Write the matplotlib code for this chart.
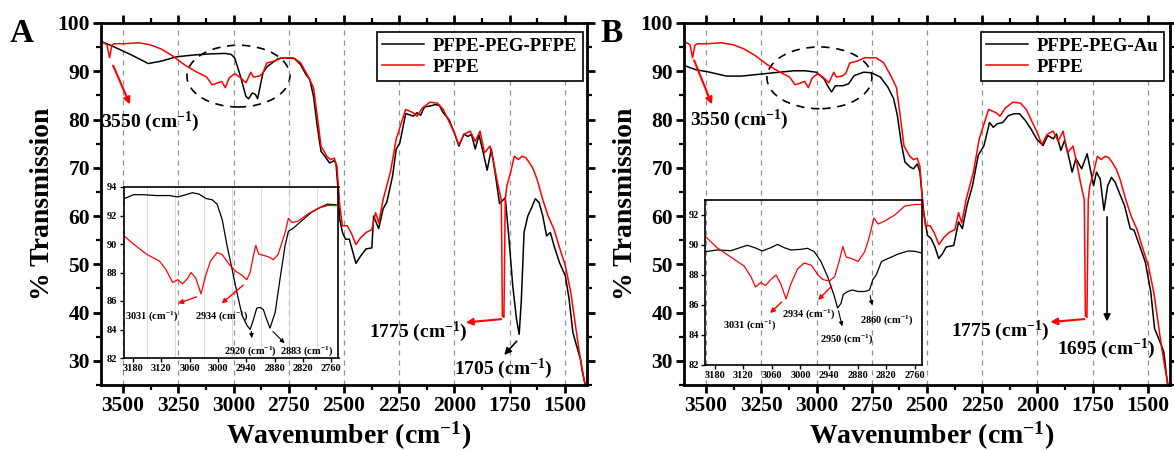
import matplotlib
matplotlib.use("Agg")
import matplotlib.pyplot as plt
from matplotlib.patches import Ellipse
from matplotlib.ticker import MultipleLocator

plt.rcParams['font.family'] = ['Liberation Serif', 'DejaVu Serif']
plt.rcParams['font.weight'] = 'bold'
plt.rcParams['mathtext.default'] = 'regular'

# ---------------- data ----------------
# PFPE (red) main spectrum
pfpe_wn = [3600, 3573, 3561, 3551, 3539, 3497, 3429, 3378, 3327, 3276, 3224, 3173, 3122,
           3097, 3071, 3054, 3037, 3020, 2995, 2969, 2944, 2922, 2910, 2884, 2867, 2850,
           2816, 2782, 2731, 2697, 2663, 2638, 2621, 2604, 2578, 2561, 2544, 2532, 2519,
           2507, 2486, 2468, 2446, 2425, 2400, 2374, 2357, 2343, 2323, 2289, 2264, 2221,
           2187, 2170, 2145, 2111, 2077, 2051, 2000, 1980, 1957, 1929, 1906, 1884, 1864,
           1839, 1822, 1805, 1788, 1783, 1776, 1770, 1763, 1746, 1729, 1711, 1694, 1677,
           1660, 1643, 1626, 1600, 1576, 1549, 1524, 1498, 1473, 1456, 1439, 1422, 1408]
pfpe_T = [96.2, 95.5, 92.8, 95.4, 95.7, 95.7, 95.9, 95.5, 94.6, 93.2, 91.4, 90.0, 88.8,
          87.2, 87.6, 87.9, 86.6, 88.6, 89.5, 88.7, 87.6, 89.8, 88.8, 89.0, 89.6, 91.7,
          92.1, 92.8, 92.8, 91.8, 89.0, 86.6, 80.7, 74.5, 72.4, 71.7, 72.0, 70.3, 62.1,
          58.0, 58.0, 56.6, 54.1, 55.5, 56.6, 57.2, 60.7, 58.6, 63.4, 69.3, 75.9, 82.1,
          81.4, 80.7, 82.4, 83.6, 83.4, 82.1, 77.2, 74.8, 76.9, 77.6, 75.5, 77.6, 73.1,
          74.5, 71.0, 66.9, 63.4, 39.3, 39.0, 63.4, 66.2, 69.0, 72.4, 71.7, 72.4, 72.1,
          71.0, 69.7, 67.6, 63.4, 60.0, 57.2, 53.4, 49.7, 44.1, 38.6, 33.1, 28.3, 25.0]

# PFPE-PEG-PFPE (black, panel A)
peg_pfpe_wn = [3600, 3548, 3463, 3386, 3327, 3258, 3173, 3105, 3037, 3011, 2995, 2969, 2944,
               2932, 2915, 2901, 2891, 2867, 2847, 2799, 2765, 2723, 2697, 2672, 2655, 2638,
               2621, 2604, 2587, 2565, 2553, 2544, 2536, 2527, 2519, 2507, 2493, 2476, 2459,
               2446, 2425, 2400, 2374, 2366, 2343, 2323, 2306, 2280, 2264, 2247, 2221, 2204,
               2187, 2170, 2153, 2136, 2111, 2085, 2068, 2051, 2025, 2000, 1980, 1957, 1940,
               1923, 1906, 1889, 1872, 1852, 1833, 1816, 1796, 1770, 1753, 1736, 1719, 1707,
               1697, 1685, 1668, 1651, 1634, 1617, 1600, 1583, 1566, 1549, 1524, 1498, 1481,
               1464, 1447, 1430, 1422, 1408]
peg_pfpe_T = [96.2, 95.2, 93.4, 91.6, 92.1, 93.0, 93.4, 93.6, 93.7, 93.5, 92.8, 89.0, 84.8,
              84.3, 85.5, 85.2, 84.3, 89.7, 91.0, 92.6, 92.8, 92.6, 91.4, 89.3, 88.3, 84.8,
              78.6, 73.4, 72.4, 71.0, 71.3, 71.5, 70.8, 65.5, 59.3, 56.6, 55.2, 55.2, 52.4,
              50.2, 51.7, 53.2, 53.4, 60.0, 57.4, 61.5, 62.9, 68.3, 73.8, 75.2, 81.2, 81.0,
              80.7, 81.4, 80.9, 82.6, 82.8, 83.1, 82.9, 81.4, 80.0, 77.2, 74.5, 77.0, 76.5,
              76.9, 73.9, 76.8, 73.6, 69.5, 73.9, 69.0, 62.6, 63.8, 55.2, 45.5, 38.6, 35.5,
              42.8, 56.6, 60.0, 61.7, 63.6, 62.8, 60.0, 55.9, 56.6, 53.8, 50.3, 47.6, 42.8,
              35.9, 33.1, 30.4, 28.0, 25.0]

# PFPE-PEG-Au (black, panel B)
peg_au_wn = [3600, 3545, 3493, 3408, 3340, 3255, 3170, 3102, 3051, 3000, 2966, 2950, 2932,
             2915, 2881, 2855, 2830, 2787, 2753, 2711, 2677, 2651, 2634, 2617, 2600, 2575,
             2561, 2544, 2532, 2515, 2498, 2481, 2464, 2447, 2430, 2413, 2379, 2357, 2340,
             2319, 2294, 2268, 2242, 2217, 2200, 2183, 2157, 2132, 2106, 2081, 2055, 2030,
             2004, 1975, 1953, 1928, 1914, 1894, 1877, 1860, 1843, 1826, 1800, 1775, 1758,
             1746, 1733, 1716, 1699, 1682, 1665, 1648, 1631, 1606, 1580, 1563, 1538, 1512,
             1487, 1470, 1445, 1428, 1411]
peg_au_T = [91.2, 90.3, 89.9, 89.0, 89.0, 89.4, 89.8, 90.1, 90.1, 89.8, 88.4, 87.0, 85.7,
            87.0, 87.0, 87.4, 89.1, 89.8, 89.7, 88.8, 86.7, 84.3, 80.8, 75.3, 71.2, 70.1,
            69.8, 70.8, 69.1, 60.8, 56.0, 55.3, 53.6, 51.2, 52.2, 53.6, 53.9, 58.8, 57.4,
            62.2, 66.3, 72.6, 74.6, 79.4, 78.4, 79.1, 79.4, 80.8, 81.2, 81.2, 79.8, 78.1,
            76.0, 74.6, 76.7, 76.0, 77.0, 73.6, 75.7, 72.6, 69.1, 71.9, 69.8, 72.9, 69.1,
            66.3, 69.1, 67.7, 61.2, 66.3, 68.0, 67.0, 65.0, 62.2, 57.4, 57.1, 53.9, 50.5,
            44.3, 36.7, 33.9, 31.9, 25.0]

# Inset A (3200-2750 cm-1)
insA_black_wn = [3200, 3179, 3158, 3131, 3103, 3085, 3068, 3054, 3040, 3026, 3012, 3002, 2991,
                 2981, 2970, 2960, 2949, 2939, 2932, 2925, 2918, 2911, 2904, 2897, 2890, 2879,
                 2869, 2858, 2851, 2841, 2824, 2803, 2782, 2768, 2750]
insA_black_T = [93.16, 93.46, 93.46, 93.4, 93.4, 93.3, 93.46, 93.6, 93.5, 93.2, 93.1, 92.8, 91.7,
                89.9, 88.2, 86.6, 85.0, 84.3, 84.0, 84.7, 85.5, 85.55, 85.4, 84.7, 84.1, 85.2,
                87.5, 89.9, 90.9, 91.1, 91.6, 92.2, 92.6, 92.8, 92.75]
insA_red_wn = [3200, 3179, 3152, 3124, 3110, 3096, 3085, 3075, 3064, 3057, 3047, 3036, 3026,
               3016, 3002, 2991, 2977, 2963, 2949, 2939, 2932, 2925, 2920, 2914, 2904, 2893,
               2883, 2873, 2858, 2851, 2843, 2831, 2810, 2789, 2768, 2750]
insA_red_T = [90.6, 90.0, 89.3, 88.8, 88.2, 87.3, 87.5, 87.2, 87.6, 88.0, 87.6, 86.5, 87.8,
              88.8, 89.4, 89.25, 88.6, 88.1, 87.8, 87.5, 88.0, 89.2, 89.9, 89.3, 89.2, 89.1,
              88.9, 89.25, 90.8, 91.8, 91.5, 91.6, 92.1, 92.5, 92.7, 92.7]

# Inset B (3200-2745 cm-1)
insB_black_wn = [3199, 3174, 3146, 3125, 3111, 3094, 3080, 3062, 3048, 3034, 3020, 2999, 2985,
                 2971, 2957, 2943, 2929, 2922, 2915, 2910, 2901, 2891, 2879, 2865, 2855, 2848,
                 2841, 2830, 2816, 2795, 2774, 2760, 2742]
insB_black_T = [89.56, 89.67, 89.62, 89.84, 89.98, 89.8, 89.6, 89.82, 90.04, 89.82, 89.67, 89.71, 89.78,
                89.56, 88.9, 87.9, 86.6, 85.8, 86.1, 86.7, 86.9, 87.0, 86.9, 86.9, 87.0, 87.7,
                88.0, 88.9, 89.1, 89.4, 89.6, 89.58, 89.44]
insB_red_wn = [3199, 3174, 3146, 3118, 3104, 3094, 3083, 3073, 3062, 3051, 3041, 3030, 3020,
               3006, 2992, 2977, 2963, 2953, 2939, 2928, 2918, 2911, 2904, 2893, 2879, 2865,
               2855, 2846, 2837, 2823, 2802, 2781, 2760, 2742]
insB_red_T = [90.56, 89.8, 89.2, 88.6, 87.9, 87.2, 87.5, 87.3, 87.7, 88.0, 87.4, 86.4, 87.4,
              88.4, 88.8, 88.65, 88.0, 87.7, 87.6, 87.9, 89.0, 89.9, 89.2, 89.1, 88.9, 89.56,
              90.6, 91.8, 91.4, 91.6, 92.0, 92.6, 92.7, 92.7]

main_xticks = [3500, 3250, 3000, 2750, 2500, 2250, 2000, 1750, 1500]
main_yticks = [30, 40, 50, 60, 70, 80, 90, 100]
inset_xticks = [3180, 3120, 3060, 3000, 2940, 2880, 2820, 2760]
insetA_yticks = [82, 84, 86, 88, 90, 92, 94]
insetB_yticks = [82, 84, 86, 88, 90, 92]

RED = '#ff0000'
W = 1174.0
H = 451.0


def px_rect(x0, y0, x1, y1):
    return [x0 / W, 1 - y1 / H, (x1 - x0) / W, (y1 - y0) / H]


fig = plt.figure(figsize=(W / 100, H / 100), dpi=100)


def style_main(ax):
    ax.set_xlim(3600, 1400)
    ax.set_ylim(25, 100)
    ax.set_xticks(main_xticks)
    ax.set_yticks(main_yticks)
    ax.xaxis.set_minor_locator(MultipleLocator(125))
    ax.yaxis.set_minor_locator(MultipleLocator(5))
    for s in ax.spines.values():
        s.set_linewidth(2.0)
    ax.tick_params(which='major', direction='out', length=6, width=2.0, labelsize=15.5, pad=2)
    ax.tick_params(which='minor', direction='out', length=3.5, width=1.6)
    ax.tick_params(which='both', top=True, right=True)
    for t in ax.get_xticklabels() + ax.get_yticklabels():
        t.set_fontweight('bold')
    ax.grid(axis='x', which='major', linestyle=(0, (4, 4)), color='#909090', linewidth=0.9)
    ax.set_xlabel('Wavenumber (cm$^{-1}$)', fontsize=20, fontweight='bold')
    ax.set_ylabel('% Transmission', fontsize=20, fontweight='bold')
    ax.xaxis.set_label_coords(0.51, -0.095)
    ax.yaxis.set_label_coords(-0.095, 0.5)


def style_inset(ax, ylim, yticks):
    ax.set_facecolor('none')
    ax.set_xlim(3200, 2745)
    ax.set_ylim(*ylim)
    ax.set_xticks(inset_xticks)
    ax.set_yticks(yticks)
    for s in ax.spines.values():
        s.set_linewidth(1.2)
    ax.tick_params(which='major', direction='out', length=3, width=1.0, labelsize=7.5, pad=1.5)
    for t in ax.get_xticklabels() + ax.get_yticklabels():
        t.set_fontweight('bold')


def add_legend(ax, anchor_x):
    leg = ax.legend(loc='upper right', bbox_to_anchor=(anchor_x, 0.975), borderaxespad=0,
                    fancybox=False, edgecolor='black', framealpha=1,
                    prop={'size': 13.5, 'weight': 'bold'}, handlelength=2.2,
                    borderpad=0.3, labelspacing=0.2, handletextpad=0.5)
    leg.get_frame().set_linewidth(1.2)


# ---------------- panel A ----------------
axA = fig.add_axes(px_rect(101, 23, 587, 385))
style_main(axA)
axA.plot(peg_pfpe_wn, peg_pfpe_T, color='black', lw=1.1, label='PFPE-PEG-PFPE')
axA.plot(pfpe_wn, pfpe_T, color=RED, lw=1.1, label='PFPE')
add_legend(axA, 0.992)
axA.add_patch(Ellipse((2978, 89.0), 466, 12.8, fill=False, ec='black', lw=1.2,
                      ls=(0, (5, 4))))
axA.annotate('', xy=(3464, 82.6), xytext=(3550, 91.7),
             arrowprops=dict(arrowstyle='-|>', color=RED, lw=1.5, mutation_scale=10))
axA.text(3378, 79.6, '3550 (cm$^{-1}$)', fontsize=14, fontweight='bold', ha='center', va='center')
axA.annotate('', xy=(1961, 37.9), xytext=(1776, 38.7),
             arrowprops=dict(arrowstyle='-|>', color=RED, lw=1.5, mutation_scale=10))
axA.text(2165, 36.0, '1775 (cm$^{-1}$)', fontsize=14, fontweight='bold', ha='center', va='center')
axA.annotate('', xy=(1783, 30.8), xytext=(1710, 34.5),
             arrowprops=dict(arrowstyle='-|>', color='black', lw=1.2, mutation_scale=10))
axA.text(1780, 28.4, '1705 (cm$^{-1}$)', fontsize=14, fontweight='bold', ha='center', va='center')

insA = fig.add_axes(px_rect(123.5, 187, 338.5, 358))
style_inset(insA, (82, 94), insetA_yticks)
insA.xaxis.set_minor_locator(MultipleLocator(30))
insA.tick_params(which='minor', length=0)
insA.grid(axis='x', which='minor', color='#d4d4d4', linewidth=0.6)
insA.plot(insA_black_wn, insA_black_T, color='black', lw=0.9)
insA.plot(insA_red_wn, insA_red_T, color=RED, lw=0.9)
ann_kw = dict(fontsize=7.5, fontweight='bold', ha='center', va='center')
insA.annotate('', xy=(3090, 85.77), xytext=(3040, 86.35),
              arrowprops=dict(arrowstyle='-|>', color=RED, lw=1.0, mutation_scale=7))
insA.text(3140, 84.96, '3031 (cm$^{-1}$)', **ann_kw)
insA.annotate('', xy=(2997, 85.7), xytext=(2942, 87.24),
              arrowprops=dict(arrowstyle='-|>', color=RED, lw=1.0, mutation_scale=7))
insA.text(2993, 84.96, '2934 (cm$^{-1}$)', **ann_kw)
insA.annotate('', xy=(2928, 83.2), xytext=(2930, 84.07),
              arrowprops=dict(arrowstyle='-|>', color='black', lw=0.8, mutation_scale=6))
insA.text(2932, 82.5, '2920 (cm$^{-1}$)', **ann_kw)
insA.annotate('', xy=(2855, 82.9), xytext=(2888, 84.0),
              arrowprops=dict(arrowstyle='-|>', color='black', lw=0.8, mutation_scale=6))
insA.text(2812, 82.5, '2883 (cm$^{-1}$)', **ann_kw)

# ---------------- panel B ----------------
axB = fig.add_axes(px_rect(684, 23, 1170, 385))
style_main(axB)
axB.plot(peg_au_wn, peg_au_T, color='black', lw=1.1, label='PFPE-PEG-Au')
axB.plot(pfpe_wn, pfpe_T, color=RED, lw=1.1, label='PFPE')
add_legend(axB, 0.988)
axB.add_patch(Ellipse((2987, 88.64), 475, 12.8, fill=False, ec='black', lw=1.2,
                      ls=(0, (5, 4))))
axB.annotate('', xy=(3469, 82.6), xytext=(3559, 92.8),
             arrowprops=dict(arrowstyle='-|>', color=RED, lw=1.5, mutation_scale=10))
axB.text(3351, 80.0, '3550 (cm$^{-1}$)', fontsize=14, fontweight='bold', ha='center', va='center')
axB.annotate('', xy=(1954, 38.0), xytext=(1775, 38.7),
             arrowprops=dict(arrowstyle='-|>', color=RED, lw=1.5, mutation_scale=10))
axB.text(2169, 36.2, '1775 (cm$^{-1}$)', fontsize=14, fontweight='bold', ha='center', va='center')
axB.annotate('', xy=(1685, 37.6), xytext=(1685, 60.4),
             arrowprops=dict(arrowstyle='-|>', color='black', lw=1.2, mutation_scale=10))
axB.text(1690, 32.5, '1695 (cm$^{-1}$)', fontsize=14, fontweight='bold', ha='center', va='center')

insB = fig.add_axes(px_rect(705, 200, 922, 365))
style_inset(insB, (82, 93), insetB_yticks)
insB.plot(insB_black_wn, insB_black_T, color='black', lw=0.9)
insB.plot(insB_red_wn, insB_red_T, color=RED, lw=0.9)
insB.annotate('', xy=(3067.6, 85.33), xytext=(3035, 86.33),
              arrowprops=dict(arrowstyle='-|>', color=RED, lw=1.0, mutation_scale=7))
insB.text(3105.6, 84.67, '3031 (cm$^{-1}$)', **ann_kw)
insB.annotate('', xy=(2967, 86.2), xytext=(2930, 87.4),
              arrowprops=dict(arrowstyle='-|>', color=RED, lw=1.0, mutation_scale=7))
insB.text(2983, 85.4, '2934 (cm$^{-1}$)', **ann_kw)
insB.annotate('', xy=(2911, 84.4), xytext=(2921.5, 85.8),
              arrowprops=dict(arrowstyle='-|>', color='black', lw=0.8, mutation_scale=6))
insB.text(2904, 83.7, '2950 (cm$^{-1}$)', **ann_kw)
insB.annotate('', xy=(2848, 85.8), xytext=(2855, 86.8),
              arrowprops=dict(arrowstyle='-|>', color='black', lw=0.8, mutation_scale=6))
insB.text(2820, 85.0, '2860 (cm$^{-1}$)', **ann_kw)

# panel letters
fig.text(22 / W, 1 - 33 / H, 'A', fontsize=24, fontweight='bold', ha='center', va='center')
fig.text(612 / W, 1 - 33 / H, 'B', fontsize=24, fontweight='bold', ha='center', va='center')

fig.savefig('out.png', dpi=100)
